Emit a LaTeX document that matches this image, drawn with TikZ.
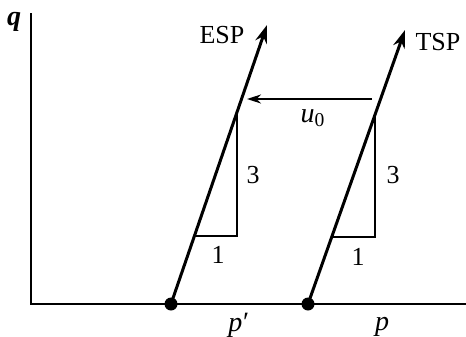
\documentclass[tikz,border=0pt]{standalone}
\usepackage{fontspec}
\setmainfont{Liberation Serif}
\usetikzlibrary{arrows.meta,calc}

\begin{document}
\begin{tikzpicture}[x=0.5pt, y=-0.5pt,
  ax/.style={line width=1.3pt},
  sp/.style={line width=1.5pt, -{Stealth[length=9pt, width=6pt]}},
  tri/.style={line width=1pt},
  uarr/.style={line width=1pt, -{Stealth[length=7pt, width=4.5pt]}},
  dot/.style={circle, fill, inner sep=0pt, minimum size=6.5pt},
  lab/.style={font=\fontsize{13}{15}\selectfont, inner sep=0pt},
  var/.style={lab, font=\fontsize{14}{16}\selectfont\itshape}
]
\useasboundingbox (0,0) rectangle (466,337);
% axes
\coordinate (qtop) at (31,13);
\coordinate (o) at (31,304);
\coordinate (pend) at (466,304);
\draw[ax] (qtop) -- (o) -- (pend);
\node[var, font=\fontsize{14}{16}\selectfont\itshape\bfseries] (q) at (14,22) {q};
% the two stress paths
\node[dot] (esp0) at (171,304) {};
\node[dot] (tsp0) at (308,304) {};
\coordinate (esp1) at (267,25);
\coordinate (tsp1) at (405,30);
\draw[sp] (esp0.center) -- (esp1);
\draw[sp] (tsp0.center) -- (tsp1);
\node[lab] (esp) at (222,35) {ESP};
\node[lab] (tsp) at (438,42) {TSP};
% slope triangles
\foreach \s in {esp,tsp} {
  \coordinate (\s lo) at ($(\s0)!0.245!(\s1)$);
  \coordinate (\s hi) at ($(\s0)!0.69!(\s1)$);
  \draw[tri] (\s lo) -| (\s hi);
}
\node[lab] (e3) at (253,175) {3};
\node[lab] (t3) at (393,175) {3};
\node[lab] (e1) at (218,255) {1};
\node[lab] (t1) at (358,257) {1};
% pore pressure shift
\coordinate (ur) at (372,99);
\coordinate (ul) at (247,99);
\draw[uarr] (ur) -- (ul);
\node[var] (u0) at (313,118) {u\textsubscript{\upshape 0}};
% axis labels
\node[var] (pp) at (238,325) {p\kern-0.5pt′};
\node[var] (p) at (382,327) {p};
\end{tikzpicture}
\end{document}
